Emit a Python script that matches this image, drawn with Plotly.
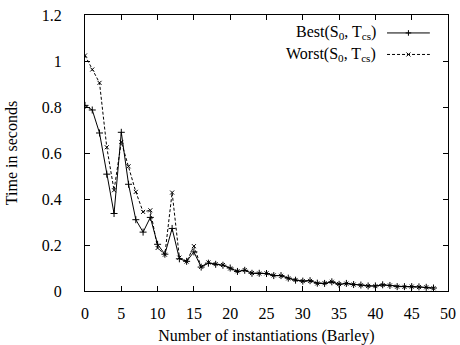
import plotly.graph_objects as go

# Number of instantiations (Barley network)
instantiations = list(range(0, 49))

# Time in seconds for best and worst orderings
best_times = [0.807, 0.787, 0.687, 0.508, 0.337, 0.690, 0.464, 0.310, 0.256, 0.320,
              0.203, 0.160, 0.272, 0.140, 0.129, 0.170, 0.104, 0.121, 0.116, 0.112,
              0.100, 0.085, 0.090, 0.077, 0.077, 0.076, 0.067, 0.067, 0.056, 0.047,
              0.043, 0.045, 0.034, 0.033, 0.040, 0.029, 0.033, 0.028, 0.026, 0.022,
              0.022, 0.027, 0.024, 0.019, 0.019, 0.019, 0.018, 0.016, 0.013]
worst_times = [1.024, 0.963, 0.905, 0.625, 0.438, 0.648, 0.542, 0.431, 0.344, 0.351,
               0.187, 0.158, 0.428, 0.145, 0.128, 0.195, 0.105, 0.124, 0.117, 0.113,
               0.098, 0.086, 0.091, 0.078, 0.076, 0.077, 0.068, 0.066, 0.055, 0.048,
               0.043, 0.044, 0.033, 0.034, 0.040, 0.030, 0.032, 0.028, 0.025, 0.022,
               0.021, 0.026, 0.024, 0.019, 0.018, 0.019, 0.017, 0.016, 0.012]

x_ticks = [0, 5, 10, 15, 20, 25, 30, 35, 40, 45, 50]
y_ticks = [0, 0.2, 0.4, 0.6, 0.8, 1, 1.2]
y_tick_text = ["0", "0.2", "0.4", "0.6", "0.8", "1", "1.2"]

series_names = ["Best(S<sub>0</sub>, T<sub>cs</sub>)", "Worst(S<sub>0</sub>, T<sub>cs</sub>)"]

FONT = "Liberation Serif, Times New Roman, serif"

fig = go.Figure()
fig.add_trace(go.Scatter(
    x=instantiations, y=best_times, mode="lines+markers", name=series_names[0],
    line=dict(color="black", width=1),
    marker=dict(symbol="cross-thin", size=5, line=dict(color="black", width=1)),
    showlegend=False,
))
fig.add_trace(go.Scatter(
    x=instantiations, y=worst_times, mode="lines+markers", name=series_names[1],
    line=dict(color="black", width=1, dash="3px,2px"),
    marker=dict(symbol="x-thin", size=4, line=dict(color="black", width=1)),
    showlegend=False,
))

# Legend drawn gnuplot-style: label on the left, sample on the right
legend_rows = [0.935, 0.857]
for name, row, sym, dash in zip(series_names, legend_rows,
                                ["cross-thin", "x-thin"], ["solid", "3px,2px"]):
    fig.add_annotation(xref="paper", yref="paper", x=0.808, y=row,
                       text=name, showarrow=False, xanchor="right", yanchor="middle",
                       font=dict(family=FONT, size=16, color="black"))
    fig.add_shape(type="line", xref="paper", yref="paper",
                  x0=0.832, x1=0.95, y0=row, y1=row,
                  line=dict(color="black", width=1, dash=dash))
    fig.add_trace(go.Scatter(
        x=[0.891], y=[row], xaxis="x2", yaxis="y2", mode="markers",
        marker=dict(symbol=sym, size=4, line=dict(color="black", width=1)),
        showlegend=False, hoverinfo="skip",
    ))

axis_common = dict(
    showline=True, linecolor="black", linewidth=1, mirror="allticks",
    ticks="inside", ticklen=5, tickwidth=1, tickcolor="black",
    showgrid=False, zeroline=False, automargin=False,
    tickfont=dict(family=FONT, size=16, color="black"),
)

fig.update_layout(
    width=460, height=345,
    margin=dict(l=85, r=12, t=15, b=54),
    paper_bgcolor="white", plot_bgcolor="white",
    font=dict(family=FONT, size=16, color="black"),
    xaxis=dict(range=[0, 50], tickvals=x_ticks, ticklabelstandoff=8,
               title=dict(text="Number of instantiations (Barley)", standoff=11,
                          font=dict(family=FONT, size=16)),
               **axis_common),
    yaxis=dict(range=[0, 1.2], tickvals=y_ticks, ticktext=y_tick_text,
               ticklabelstandoff=19,
               title=dict(text="Time in seconds", standoff=20,
                          font=dict(family=FONT, size=16)),
               **axis_common),
    xaxis2=dict(range=[0, 1], overlaying="x", visible=False, automargin=False),
    yaxis2=dict(range=[0, 1], overlaying="y", visible=False, automargin=False),
)

fig.write_html("out.html")
